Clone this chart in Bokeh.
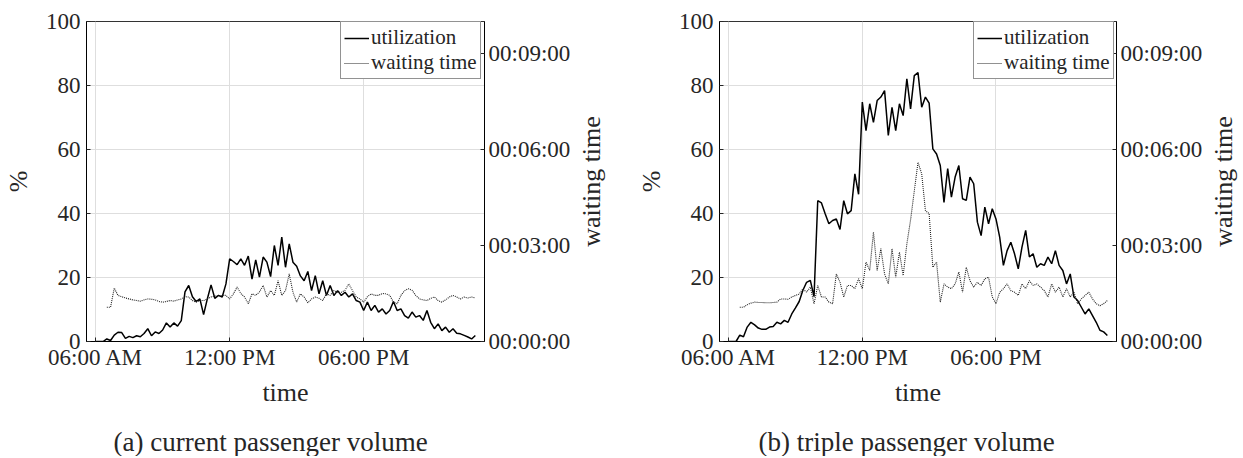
import numpy as np
from bokeh.plotting import figure
from bokeh.models import Range1d, LinearAxis, FixedTicker, Legend, LegendItem, Title
from bokeh.layouts import row
from bokeh.embed import file_html
from bokeh.resources import INLINE

FONT = "Liberation Serif"
TXT = "#262626"

# time axis (hours of day), 10-minute samples
util_start = 6.0
wait_start = 6.5
step_h = 10 / 60

x_ticks = [6, 12, 18]
x_tick_labels = ["06:00 AM", "12:00 PM", "06:00 PM"]
y_ticks = [0, 20, 40, 60, 80, 100]
wt_ticks = [0, 3, 6, 9]  # minutes
wt_tick_labels = ["00:00:00", "00:03:00", "00:06:00", "00:09:00"]

# (a) current passenger volume: utilization in %
util_a = [0, 0, 0, 0.8, 0.3, 2.0,
          2.9, 2.8, 1.0, 1.6, 1.2, 1.8,
          1.5, 2.5, 4.0, 1.8, 3.0, 2.5,
          3.6, 5.8, 4.5, 5.8, 4.8, 6.5,
          15.5, 17.5, 14.0, 12.5, 13.3, 8.4,
          13.3, 17.7, 13.5, 14.4, 13.9, 18.0,
          25.8, 25.0, 24.0, 25.8, 23.8, 26.7,
          19.5, 25.5, 20.1, 26.4, 24.8, 20.3,
          30.0, 23.8, 32.6, 23.2, 30.5, 24.8,
          23.5, 20.5, 19.0, 21.9, 15.9, 20.6,
          14.9, 19.0, 14.4, 17.5, 14.4, 15.9,
          14.4, 15.4, 13.9, 14.9, 12.8, 12.3,
          9.7, 12.3, 9.7, 11.3, 9.2, 10.2,
          8.6, 9.7, 12.5, 9.7, 10.2, 8.1,
          7.3, 9.2, 7.6, 8.1, 6.6, 9.7,
          6.0, 4.0, 5.5, 3.4, 4.5, 2.9,
          4.0, 2.6, 2.4, 1.9, 1.4, 0.8,
          1.9]

# (a) waiting time in minutes
wait_a = [1.07, 1.07, 1.67,
          1.44, 1.40, 1.36, 1.33, 1.30, 1.28,
          1.26, 1.30, 1.33, 1.32, 1.30, 1.25,
          1.23, 1.25, 1.28, 1.26, 1.30, 1.33,
          1.40, 1.39, 1.28, 1.23, 1.28, 1.28,
          1.33, 1.39, 1.42, 1.42, 1.44, 1.44,
          1.33, 1.49, 1.70, 1.50, 1.39, 1.18,
          1.49, 1.44, 1.55, 1.75, 1.39, 1.59,
          1.44, 1.90, 1.44, 1.59, 2.11, 1.54,
          1.23, 1.49, 1.39, 1.21, 1.33, 1.39,
          1.35, 1.28, 1.49, 1.44, 1.59, 1.54,
          1.54, 1.60, 1.80, 1.59, 1.39, 1.33,
          1.23, 1.40, 1.49, 1.44, 1.44, 1.50,
          1.49, 1.44, 1.23, 1.18, 1.44, 1.59,
          1.65, 1.60, 1.44, 1.33, 1.30, 1.28,
          1.35, 1.39, 1.28, 1.23, 1.30, 1.39,
          1.44, 1.39, 1.33, 1.39, 1.36, 1.39,
          1.36]

# (b) triple passenger volume: utilization in %
util_b = [0, 0, 0, 2.0, 1.5, 4.5,
          6.0, 5.2, 4.2, 3.8, 3.8, 4.5,
          4.7, 6.0, 5.5, 6.6, 6.0, 8.6,
          10.5, 12.5, 16.0, 18.5, 19.1, 14.0,
          44.0, 43.3, 39.9, 36.8, 37.8, 38.3,
          35.0, 44.0, 39.9, 40.9, 52.4, 46.0,
          74.8, 65.9, 74.3, 68.5, 75.3, 76.4,
          78.4, 64.4, 73.2, 65.9, 74.3, 70.6,
          82.1, 72.7, 83.1, 84.0, 73.2, 76.4,
          74.5, 60.2, 58.6, 55.0, 43.5, 54.0,
          45.1, 51.4, 55.0, 44.6, 44.1, 51.4,
          49.3, 37.3, 33.1, 42.0, 36.8, 41.5,
          38.3, 32.6, 23.8, 28.4, 31.0, 27.4,
          22.7, 29.5, 34.7, 26.4, 27.4, 23.2,
          24.3, 23.8, 26.4, 24.3, 28.4, 23.8,
          22.2, 18.0, 21.1, 13.9, 12.8, 10.7,
          8.6, 10.2, 8.1, 6.0, 3.5, 3.0,
          1.9]

# (b) waiting time in minutes
wait_b = [1.07, 1.07, 1.15,
          1.20, 1.23, 1.22, 1.22, 1.21, 1.21,
          1.22, 1.23, 1.33, 1.33, 1.32, 1.39,
          1.44, 1.48, 1.65, 1.54, 1.70, 1.18,
          1.75, 1.39, 1.39, 1.23, 1.18, 2.11,
          1.85, 1.39, 1.75, 1.75, 1.65, 1.96,
          1.65, 2.48, 2.22, 3.42, 2.22, 2.90,
          2.11, 1.80, 2.90, 2.01, 2.79, 2.06,
          3.05, 3.80, 4.70, 5.60, 5.24, 4.09,
          4.00, 2.32, 2.48, 1.23, 1.80, 1.70,
          1.65, 1.80, 2.17, 1.54, 2.32, 1.90,
          1.70, 1.85, 1.75, 1.96, 2.01, 1.39,
          1.18, 1.54, 1.65, 1.80, 1.59, 1.54,
          1.44, 1.80, 1.65, 1.90, 1.75, 1.80,
          1.70, 1.59, 1.39, 1.80, 1.54, 1.70,
          1.39, 1.65, 1.39, 1.54, 1.18, 1.33,
          1.44, 1.54, 1.33, 1.18, 1.12, 1.18,
          1.28]

captions = ["(a) current passenger volume", "(b) triple passenger volume"]
right_label = "waiting time"

HAS_STANDOFF = "standoff" in Title.properties()

FIG_H = 456
B_TOP = 21
B_BOTTOM = FIG_H - B_TOP - 320


def hide_ticks(ax, tick):
    ax.ticker = FixedTicker(ticks=[tick])
    ax.major_label_overrides = {tick: ""}
    ax.axis_line_color = None
    ax.major_tick_line_color = None
    ax.minor_tick_line_color = None
    ax.major_tick_in = 0
    ax.major_tick_out = 0


def label_only_axis(ax, label, standoff, tick):
    """axis that only shows a (bottom-to-top) axis label"""
    hide_ticks(ax, tick)
    ax.major_label_standoff = 0
    ax.axis_label = label
    ax.axis_label_standoff = standoff
    ax.axis_label_text_font = FONT
    ax.axis_label_text_font_size = "26px"
    ax.axis_label_text_font_style = "normal"
    ax.axis_label_text_color = TXT


def make_panel(util, wait, caption, width, border_left, border_right, cap_offset):
    t_u = util_start + np.arange(len(util)) * step_h
    t_w = wait_start + np.arange(len(wait)) * step_h

    p = figure(width=width, height=FIG_H, output_backend="svg", toolbar_location=None,
               x_range=Range1d(5.59, 23.41), y_range=Range1d(0, 100),
               min_border_left=border_left, min_border_right=border_right,
               min_border_top=B_TOP, min_border_bottom=B_BOTTOM)
    p.extra_y_ranges = {"wt": Range1d(0, 10)}
    p.background_fill_color = "white"
    p.border_fill_color = "white"
    p.outline_line_color = "#333333"
    p.outline_line_width = 1

    r_u = p.line(t_u, util, line_color="black", line_width=1.5)
    r_w = p.line(t_w, wait, y_range_name="wt", line_color="#222222",
                 line_width=1.1, line_dash="1 1")

    p.xgrid.ticker = FixedTicker(ticks=x_ticks)
    p.ygrid.ticker = FixedTicker(ticks=y_ticks)
    for g in (p.xgrid, p.ygrid):
        g.grid_line_color = "#dedede"
        g.grid_line_width = 1

    xa = p.xaxis[0]
    xa.ticker = FixedTicker(ticks=x_ticks)
    xa.major_label_overrides = {k: v for k, v in zip(x_ticks, x_tick_labels)}
    xa.axis_label = "time"

    ya = p.yaxis[0]
    ya.ticker = FixedTicker(ticks=y_ticks)
    ya.axis_label = "%"

    ra = LinearAxis(y_range_name="wt", ticker=FixedTicker(ticks=wt_ticks))
    ra.major_label_overrides = {k: v for k, v in zip(wt_ticks, wt_tick_labels)}
    p.add_layout(ra, "right")

    for ax in (xa, ya, ra):
        ax.axis_line_color = "black"
        ax.axis_line_width = 1
        ax.major_tick_in = 4
        ax.major_tick_out = 0
        ax.major_tick_line_color = TXT
        ax.minor_tick_line_color = None
        ax.major_label_text_font = FONT
        ax.major_label_text_font_size = "23px"
        ax.major_label_text_color = TXT
        ax.axis_label_text_font = FONT
        ax.axis_label_text_font_size = "26px"
        ax.axis_label_text_font_style = "normal"
        ax.axis_label_text_color = TXT
    xa.major_label_standoff = 3
    xa.axis_label_standoff = 5
    ya.major_label_standoff = 6
    ya.axis_label_standoff = 10
    ra.major_label_standoff = 4

    legend = Legend(items=[LegendItem(label="utilization", renderers=[r_u]),
                           LegendItem(label="waiting time", renderers=[r_w])],
                    location=(254, 262), margin=0, padding=3, spacing=0,
                    glyph_width=25, glyph_height=22, label_height=22,
                    label_standoff=2,
                    label_text_font=FONT, label_text_font_size="21px",
                    label_text_color=TXT,
                    border_line_color=TXT, border_line_width=1,
                    background_fill_color="white", background_fill_alpha=1)
    p.add_layout(legend)

    # blank spacer between the x axis and the caption
    spacer = Title(text=" ", text_font_size="11px", text_color="white")
    if HAS_STANDOFF:
        spacer.standoff = 1
    p.add_layout(spacer, "below")

    cap = Title(text=caption, align="left", offset=cap_offset, vertical_align="bottom",
                text_font=FONT, text_font_size="27px", text_font_style="normal",
                text_color=TXT)
    if HAS_STANDOFF:
        cap.standoff = 0
    p.add_layout(cap, "below")
    return p


# panel (a): frame from x=85 to x=485
p1 = make_panel(util_a, wait_a, captions[0], 573, 85, 88, 27)
# panel (b): frame from x=717 to x=1117; its outer left panel carries the
# right-axis label of (a)
p2 = make_panel(util_b, wait_b, captions[1], 632, 144, 88, 39)
extra = LinearAxis()
label_only_axis(extra, right_label, 28, 50)
p2.add_layout(extra, "left")

# thin strip carrying the right-axis label of (b)
p3 = figure(width=38, height=FIG_H, output_backend="svg", toolbar_location=None,
            x_range=Range1d(0, 1), y_range=Range1d(0, 1),
            min_border_left=0, min_border_right=0,
            min_border_top=B_TOP, min_border_bottom=B_BOTTOM)
p3.outline_line_color = None
p3.grid.visible = False
p3.xaxis.visible = False
p3.background_fill_color = "white"
p3.border_fill_color = "white"
label_only_axis(p3.yaxis[0], right_label, 0, 0.5)

layout = row(p1, p2, p3, spacing=0)
open("out.html", "w").write(file_html(layout, INLINE))
